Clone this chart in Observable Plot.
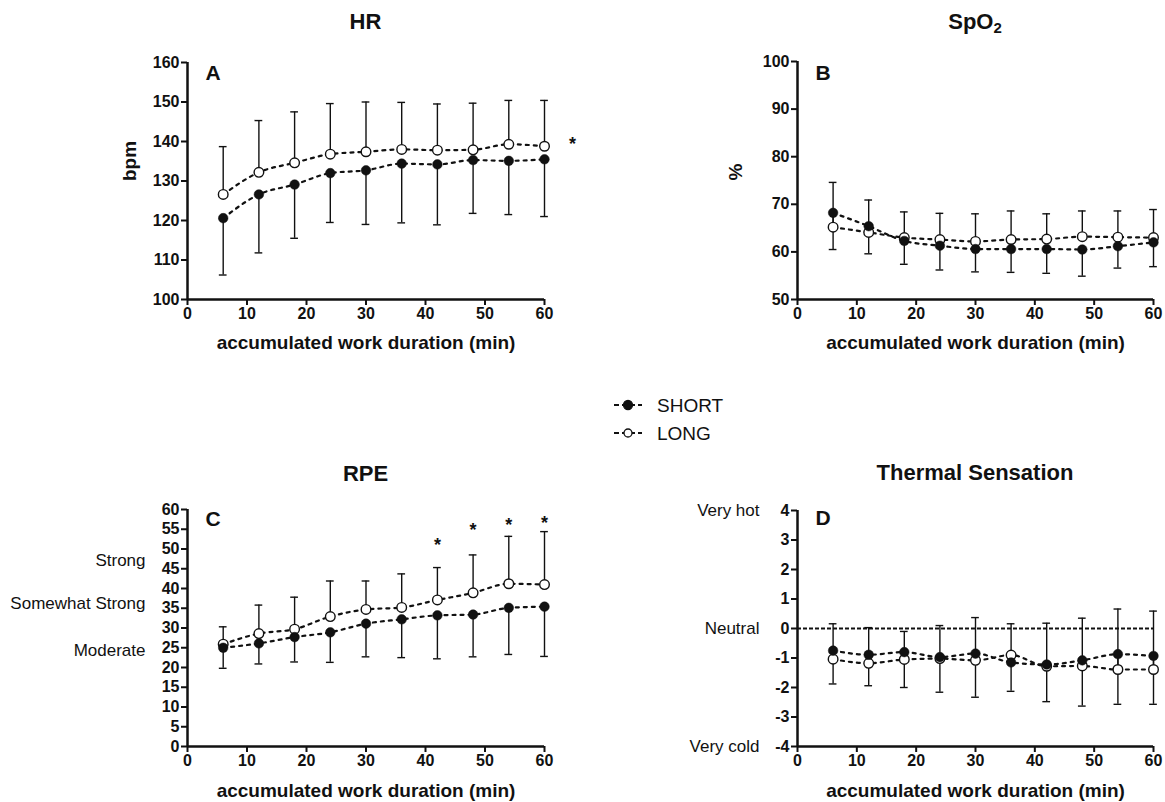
<!DOCTYPE html>
<html>
<head>
<meta charset="utf-8">
<script src="https://cdn.jsdelivr.net/npm/d3@7"></script>
<script src="https://cdn.jsdelivr.net/npm/@observablehq/plot@0.6"></script>
<style>
  body { margin: 0; background: #fff; }
  #page { position: relative; width: 1165px; height: 802px; overflow: hidden; background: #fff;
          font-family: 'Liberation Sans', Arial, Helvetica, sans-serif; color: #111; }
  .panel { position: absolute; }
  .title { position: absolute; font-weight: bold; font-size: 22px; transform: translate(-50%, -50%); white-space: nowrap; }
  .title sub { font-size: 15px; vertical-align: -4px; line-height: 0; }
</style>
</head>
<body>
<div id="page"></div>
<script>
// ---------------- DATA ----------------
const minutes = [6, 12, 18, 24, 30, 36, 42, 48, 54, 60];
const xTicks = [0, 10, 20, 30, 40, 50, 60];
const seriesNames = ["SHORT", "LONG"];
const xTitle = "accumulated work duration (min)";

// A: HR (bpm)
const hrShort = [120.6, 126.6, 129.1, 132.0, 132.7, 134.4, 134.2, 135.3, 135.1, 135.5];
const hrLong  = [126.6, 132.2, 134.6, 136.8, 137.4, 138.0, 137.8, 137.9, 139.3, 138.8];
const hrUpper = [138.7, 145.3, 147.5, 149.6, 150.0, 149.9, 149.5, 149.7, 150.4, 150.4];
const hrLower = [106.2, 111.8, 115.5, 119.5, 119.0, 119.4, 118.9, 121.8, 121.5, 121.0];
const hrTicks = [100, 110, 120, 130, 140, 150, 160];
const hrSig = [{m: 60, v: 140.6}];

// B: SpO2 (%)
const spShort = [68.2, 65.4, 62.3, 61.3, 60.6, 60.6, 60.6, 60.5, 61.2, 62.0];
const spLong  = [65.2, 64.1, 63.0, 62.6, 62.2, 62.6, 62.7, 63.2, 63.1, 63.0];
const spUpper = [74.6, 70.9, 68.4, 68.1, 68.0, 68.6, 68.0, 68.6, 68.6, 68.9];
const spLower = [60.5, 59.6, 57.4, 56.2, 55.8, 55.7, 55.5, 54.9, 56.6, 56.9];
const spTicks = [50, 60, 70, 80, 90, 100];

// C: RPE
const rpeShort = [25.0, 26.1, 27.7, 28.9, 31.1, 32.2, 33.2, 33.4, 35.1, 35.4];
const rpeLong  = [25.9, 28.6, 29.7, 32.9, 34.7, 35.2, 37.1, 38.9, 41.2, 41.0];
const rpeUpper = [30.3, 35.8, 37.8, 41.9, 41.9, 43.7, 45.3, 48.5, 53.2, 54.4];
const rpeLower = [19.8, 20.9, 21.4, 21.3, 22.7, 22.5, 22.2, 22.7, 23.3, 22.8];
const rpeTicks = [0, 5, 10, 15, 20, 25, 30, 35, 40, 45, 50, 55, 60];
const rpeScaleNames = ["Strong", "Somewhat Strong", "Moderate"];
const rpeScaleValues = [47, 36.2, 24.4];
const rpeSigMinutes = [42, 48, 54, 60];
const rpeSigValues = [52.2, 55.9, 57.4, 57.9];

// D: Thermal Sensation
const tsShort = [-0.75, -0.89, -0.80, -0.97, -0.85, -1.15, -1.22, -1.08, -0.87, -0.93];
const tsLong  = [-1.04, -1.18, -1.05, -1.02, -1.08, -0.90, -1.28, -1.27, -1.39, -1.39];
const tsUpper = [0.16, 0.03, -0.10, 0.10, 0.37, 0.16, 0.18, 0.35, 0.66, 0.59];
const tsLower = [-1.88, -1.94, -2.00, -2.16, -2.33, -2.13, -2.48, -2.63, -2.57, -2.57];
const tsTicks = [-4, -3, -2, -1, 0, 1, 2, 3, 4];
const tsScaleNames = ["Very hot", "Neutral", "Very cold"];
const tsScaleValues = [4, 0, -4];

// ---------------- DRAWING ----------------
const font = "'Liberation Sans', Arial, Helvetica, sans-serif";
const ink = "#111";
const page = document.getElementById("page");

function panel(cfg) {
  const rows = minutes.map((m, i) => ({m, s: cfg.short[i], l: cfg.long[i], hi: cfg.upper[i], lo: cfg.lower[i]}));
  const cap = 0.65;
  const dash = "3,5";
  const marks = [
    ...(cfg.before || []),
    Plot.line(rows, {x: "m", y: "s", curve: "monotone-x", stroke: ink, strokeWidth: 2.2, strokeDasharray: dash}),
    Plot.line(rows, {x: "m", y: "l", curve: "monotone-x", stroke: ink, strokeWidth: 2.2, strokeDasharray: dash}),
    Plot.ruleX(rows, {x: "m", y1: "l", y2: "hi", stroke: ink, strokeWidth: 1.4}),
    Plot.ruleX(rows, {x: "m", y1: "s", y2: "lo", stroke: ink, strokeWidth: 1.4}),
    Plot.ruleY(rows, {y: "hi", x1: d => d.m - cap, x2: d => d.m + cap, stroke: ink, strokeWidth: 1.4}),
    Plot.ruleY(rows, {y: "lo", x1: d => d.m - cap, x2: d => d.m + cap, stroke: ink, strokeWidth: 1.4}),
    Plot.dot(rows, {x: "m", y: "l", r: 4.8, fill: "white", stroke: ink, strokeWidth: 1.4}),
    Plot.dot(rows, {x: "m", y: "s", r: 4.8, fill: ink, stroke: ink, strokeWidth: 0.5}),
    Plot.axisX({ticks: xTicks, tickSize: 6, tickPadding: 2, stroke: ink, strokeWidth: 2, label: null,
                fontSize: 16, fontWeight: "bold", tickFormat: d => String(d)}),
    Plot.axisY({ticks: cfg.yTicks, tickSize: 6, tickPadding: 2, stroke: ink, strokeWidth: 2, label: null,
                fontSize: 16, fontWeight: "bold", tickFormat: d => String(d)}),
    Plot.ruleX([0], {stroke: ink, strokeWidth: 2.5}),
    Plot.ruleY([cfg.yDomain[0]], {stroke: ink, strokeWidth: 2.5}),
    Plot.text([cfg.letter], {text: d => d, frameAnchor: "top-left", dx: 18, dy: cfg.letterDy, lineAnchor: "top",
                             textAnchor: "start", fontSize: 21, fontWeight: "bold", fill: ink}),
    Plot.text([xTitle], {text: d => d, frameAnchor: "bottom", dy: cfg.xTitleDy, lineAnchor: "middle",
                         fontSize: 19, fontWeight: "bold", fill: ink}),
    ...(cfg.ylabel ? [Plot.text([cfg.ylabel], {text: d => d, frameAnchor: "left", rotate: -90, dx: cfg.ylabelDx,
                         lineAnchor: "middle", fontSize: 19, fontWeight: "bold", fill: ink})] : []),
    ...(cfg.after || [])
  ];
  const svg = Plot.plot({
    width: cfg.width, height: cfg.height,
    marginLeft: cfg.ml, marginRight: cfg.mr, marginTop: cfg.mt, marginBottom: cfg.mb,
    x: {domain: [0, 60]},
    y: {domain: cfg.yDomain},
    style: {fontFamily: font, fontSize: "16px", fontWeight: "bold", color: ink, background: "white", overflow: "visible"},
    marks
  });
  svg.classList.add("panel");
  svg.style.left = cfg.left + "px";
  svg.style.top = cfg.top + "px";
  svg.style.position = "absolute";
  page.appendChild(svg);
}

// A
panel({
  short: hrShort, long: hrLong, upper: hrUpper, lower: hrLower,
  yDomain: [100, 160], yTicks: hrTicks, letter: "A", letterDy: 3,
  ylabel: "bpm", ylabelDx: -58, xTitleDy: 43,
  left: 0, top: 40, width: 582, height: 320, ml: 187, mr: 38, mt: 22, mb: 61,
  after: [Plot.text(hrSig, {x: "m", y: "v", text: () => "*", dx: 28, dy: 5, fontSize: 18, fontWeight: "bold", fill: ink})]
});

// B
panel({
  short: spShort, long: spLong, upper: spUpper, lower: spLower,
  yDomain: [50, 100], yTicks: spTicks, letter: "B", letterDy: 4,
  ylabel: "%", ylabelDx: -62, xTitleDy: 43,
  left: 582, top: 40, width: 583, height: 320, ml: 215, mr: 12, mt: 21, mb: 61
});

// C
panel({
  short: rpeShort, long: rpeLong, upper: rpeUpper, lower: rpeLower,
  yDomain: [0, 60], yTicks: rpeTicks, letter: "C", letterDy: 2,
  ylabel: null, xTitleDy: 44,
  left: 0, top: 490, width: 582, height: 312, ml: 187, mr: 38, mt: 19, mb: 56,
  after: [
    Plot.text(rpeScaleNames.map((t, i) => ({t, v: rpeScaleValues[i]})),
      {frameAnchor: "left", y: "v", text: "t", textAnchor: "end", dx: -42, fontSize: 17, fontWeight: "normal", fill: ink}),
    Plot.text(rpeSigMinutes.map((m, i) => ({m, v: rpeSigValues[i]})),
      {x: "m", y: "v", text: () => "*", dy: 5, fontSize: 18, fontWeight: "bold", fill: ink})
  ]
});

// D
panel({
  short: tsShort, long: tsLong, upper: tsUpper, lower: tsLower,
  yDomain: [-4, 4], yTicks: tsTicks, letter: "D", letterDy: 0,
  ylabel: null, xTitleDy: 44,
  left: 582, top: 490, width: 583, height: 312, ml: 215, mr: 12, mt: 20, mb: 56,
  before: [Plot.ruleY([0], {stroke: ink, strokeWidth: 2, strokeDasharray: "4,2"})],
  after: [
    Plot.text(tsScaleNames.map((t, i) => ({t, v: tsScaleValues[i]})),
      {frameAnchor: "left", y: "v", text: "t", textAnchor: "end", dx: -38, fontSize: 17, fontWeight: "normal", fill: ink})
  ]
});

// Titles
const titles = [
  {html: "HR", x: 365.5, y: 22},
  {html: "SpO<sub>2</sub>", x: 975, y: 22},
  {html: "RPE", x: 365.5, y: 474},
  {html: "Thermal Sensation", x: 975, y: 473}
];
titles.forEach(t => {
  const d = document.createElement("div");
  d.className = "title";
  d.innerHTML = t.html;
  d.style.left = t.x + "px";
  d.style.top = t.y + "px";
  page.appendChild(d);
});

// Legend
const leg = d3.select(page).append("svg")
  .attr("width", 160).attr("height", 70)
  .style("position", "absolute").style("left", "600px").style("top", "380px");
seriesNames.forEach((name, i) => {
  const y = 25 + i * 28;
  leg.append("line").attr("x1", 14).attr("x2", 42).attr("y1", y).attr("y2", y)
    .attr("stroke", ink).attr("stroke-width", 2).attr("stroke-dasharray", "5,3");
  leg.append("circle").attr("cx", 28).attr("cy", y).attr("r", i === 0 ? 4.5 : 4)
    .attr("fill", i === 0 ? ink : "white").attr("stroke", ink).attr("stroke-width", 1.3);
  leg.append("text").attr("x", 57).attr("y", y).attr("dominant-baseline", "central")
    .attr("font-family", font).attr("font-size", 19).attr("fill", ink).text(name);
});
</script>
</body>
</html>
